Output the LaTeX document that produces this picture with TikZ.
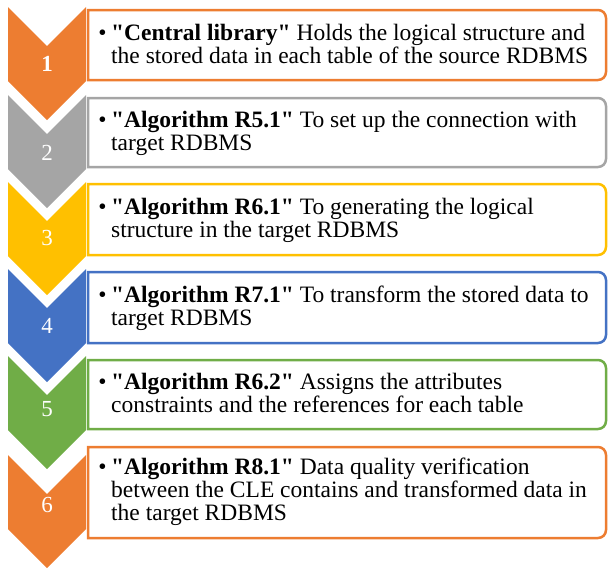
\documentclass[tikz,border=0pt]{standalone}
\usepackage{fontspec}
\setmainfont{Liberation Serif}[Ligatures=TeXOff]
\definecolor{cOrange}{HTML}{ED7D31}
\definecolor{cGray}{HTML}{A5A5A5}
\definecolor{cGold}{HTML}{FFC000}
\definecolor{cBlue}{HTML}{4472C4}
\definecolor{cGreen}{HTML}{70AD47}
\tikzset{
  chev/.style={draw=none},
  boxline/.style={line width=2.5pt, fill=white},
  txt/.style={anchor=base west, inner sep=0pt, font=\fontsize{23.5}{23}\selectfont},
  bul/.style={anchor=base, inner sep=0pt, font=\fontsize{23.5}{23}\selectfont},
  num/.style={inner sep=0pt, text=white, font=\fontsize{23}{23}\selectfont}
}
\newcommand{\chevshape}[2]{%
  \fill[#2] (8,#1) -- (47,#1+39) -- (86,#1) -- (86,#1+74) -- (47,#1+113) -- (8,#1+74) -- cycle;}
\newcommand{\boxshape}[3]{%
  \draw[boxline, draw=#3] (88,#2) -- (88,#1) -- (598,#1) arc (-90:0:8) -- (606,#2-8) arc (0:90:8) -- cycle;}
\begin{document}
\begin{tikzpicture}[x=1pt,y=-1pt]
\useasboundingbox (0,0) rectangle (608,568);
% boxes
\boxshape{10}{80}{cOrange}
\boxshape{98}{167}{cGray}
\boxshape{184}{255}{cGold}
\boxshape{272}{343}{cBlue}
\boxshape{360}{429}{cGreen}
\boxshape{447}{538}{cOrange}
% chevrons
\chevshape{7}{cOrange}
\chevshape{95}{cGray}
\chevshape{182}{cGold}
\chevshape{269}{cBlue}
\chevshape{356}{cGreen}
\chevshape{455}{cOrange}
% numbers
\node[num, font=\fontsize{23}{23}\selectfont\bfseries] (n1) at (47,64) {1};
\node[num] (n2) at (47,153) {2};
\node[num] (n3) at (47,238) {3};
\node[num] (n4) at (47,326) {4};
\node[num] (n5) at (47,409) {5};
\node[num] (n6) at (47,505) {6};
% texts
\node[bul] (b1) at (102.5,40) {•};
\node[txt] (t1a) at (111,40) {\textbf{"Central library"} Holds the logical structure and};
\node[txt] (t1b) at (111,63) {the stored data in each table of the source RDBMS};
\node[bul] (b2) at (102.5,127.5) {•};
\node[txt] (t2a) at (111,127.5) {\textbf{"Algorithm R5.1"} To set up the connection with};
\node[txt] (t2b) at (111,150.5) {target RDBMS};
\node[bul] (b3) at (102.5,214.5) {•};
\node[txt] (t3a) at (111,214.5) {\textbf{"Algorithm R6.1"} To generating the logical};
\node[txt] (t3b) at (111,237.5) {structure in the target RDBMS};
\node[bul] (b4) at (102.5,302.5) {•};
\node[txt] (t4a) at (111,302.5) {\textbf{"Algorithm R7.1"} To transform the stored data to};
\node[txt] (t4b) at (111,325.5) {target RDBMS};
\node[bul] (b5) at (102.5,389) {•};
\node[txt] (t5a) at (111,389) {\textbf{"Algorithm R6.2"} Assigns the attributes};
\node[txt] (t5b) at (111,412) {constraints and the references for each table};
\node[bul] (b6) at (102.5,474) {•};
\node[txt] (t6a) at (111,474) {\textbf{"Algorithm R8.1"} Data quality verification};
\node[txt] (t6b) at (111,497) {between the CLE contains and transformed data in};
\node[txt] (t6c) at (111,520) {the target RDBMS};
\end{tikzpicture}
\end{document}
